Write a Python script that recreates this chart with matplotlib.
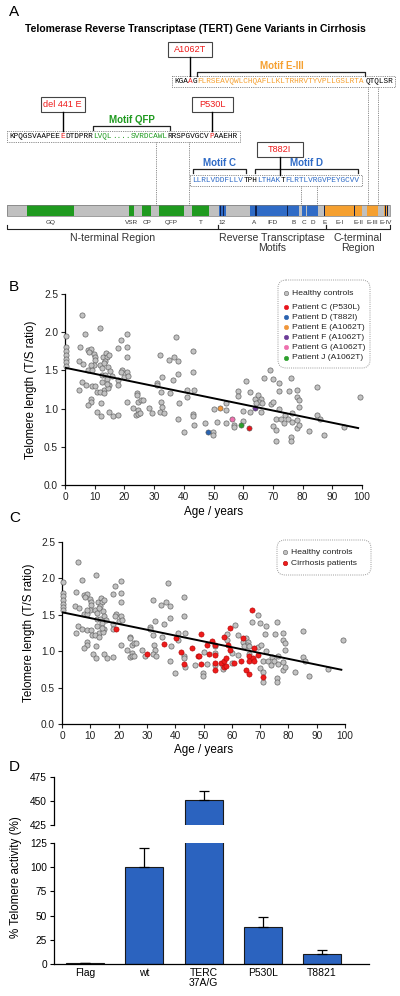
import matplotlib.pyplot as plt
import numpy as np
from matplotlib.patches import Rectangle, FancyBboxPatch

plt.rcParams['font.family'] = ['Liberation Sans', 'DejaVu Sans']

# ---------------- data ----------------
# Panel A: TERT domains (amino acid positions, protein length 1132)
TERT_LEN = 1132
domain_names = ["GQ", "VSR", "CP", "QFP", "T", "12", "A", "IFD", "B", "C", "D", "E",
                "E-I", "E-II", "E-III", "E-IV"]
domain_start = [59, 361, 399, 449, 547, 627, 718, 742, 830, 872, 887, 937, 940, 1026, 1064, 1114]
domain_end = [198, 375, 426, 523, 597, 647, 742, 830, 863, 884, 919, 941, 1026, 1049, 1097, 1126]
domain_group = ["N", "N", "N", "N", "N", "RT", "RT", "RT", "RT", "RT", "RT", "RT",
                "C", "C", "C", "C"]
dark_stripes = [632, 641, 736, 830, 939, 1026, 1118, 1125]
region_names = ["N-terminal Region", "Reverse Transcriptase\nMotifs", "C-terminal\nRegion"]
region_bounds = [(0, 624), (624, 943), (943, 1132)]

# Panel B / C: healthy controls (age, telomere length T/S)
healthy_age = [0.5, 0.5, 0.5, 0.5, 0.5, 0.5, 0.5,
               5.8, 6.9, 4.9, 4.7, 6.1, 4.8, 5.8, 7.0, 7.9, 9.0, 7.8, 8.8, 8.2, 9.9, 10.1, 10.2,
               9.9, 8.7, 9.0, 10.1, 8.8, 8.8, 7.6, 10.7, 11.9, 10.9, 12.0, 12.0, 11.8, 12.4, 12.5,
               12.4, 13.0, 11.8, 13.0, 12.7, 13.7, 14.0, 14.8, 13.5, 13.0, 14.6, 15.0, 13.5, 14.0,
               15.7, 14.8, 14.6, 14.0, 14.8, 16.0, 18.0, 18.0, 18.9, 19.1, 18.9, 18.0, 18.0, 20.9,
               20.8, 21.0, 20.0, 21.0, 21.1, 20.8, 23.0, 24.2, 24.2, 24.7, 24.7, 25.6, 26.2, 23.9,
               24.7, 25.3, 28.3, 29.2, 31.0, 31.1, 32.0, 32.8, 32.2, 32.4, 32.8, 32.0, 33.2, 35.2,
               36.2, 35.1, 36.8, 37.3, 38.2, 38.2, 38.4, 38.2, 40.1, 41.0, 41.1, 43.0, 43.0, 43.4,
               43.0, 43.0, 43.4,
               47.1, 49.7, 49.7, 50.0, 51.3, 54.1, 54.1, 54.1, 57.0, 57.0, 60.0, 58.3, 58.3, 61.1,
               62.2, 60.0, 62.2, 63.9, 65.0, 65.9, 65.3, 64.4, 66.2, 66.0, 67.0, 69.1, 70.0, 72.0,
               71.9, 69.2, 70.2, 72.2, 70.9, 70.0, 71.1, 70.9, 76.1, 76.1, 72.8, 74.2, 75.0, 73.9,
               76.4, 76.4, 78.1, 78.1, 78.9, 75.3, 76.1, 78.1, 78.1, 78.9, 78.9, 82.2, 85.0, 85.0,
               85.9, 87.2, 94.1, 99.2]
healthy_tl = [1.95, 1.80, 1.76, 1.70, 1.65, 1.61, 1.56,
              2.23, 1.98, 1.81, 1.62, 1.59, 1.25, 1.35, 1.31, 1.51, 1.51, 1.77, 1.78, 1.74, 1.72,
              1.68, 1.63, 1.57, 1.57, 1.29, 1.29, 1.13, 1.08, 1.05, 1.22, 2.05, 0.96, 0.90, 1.07,
              1.57, 1.53, 1.44, 1.35, 1.25, 1.22, 1.20, 1.68, 1.73, 1.68, 1.70, 1.62, 1.60, 1.55,
              1.49, 1.44, 1.39, 1.43, 1.31, 1.27, 1.32, 0.96, 0.90, 0.92, 1.79, 1.90, 1.51, 1.48,
              1.38, 1.31, 1.97, 1.80, 1.67, 1.42, 1.48, 1.43, 1.08, 1.01, 1.20, 1.18, 1.09, 0.98,
              1.11, 1.11, 0.92, 0.93, 0.94, 1.01, 0.94, 1.33, 1.31, 1.70, 1.42, 1.22, 1.09, 1.02,
              0.96, 0.94, 1.20, 1.38, 1.63, 1.67, 1.94, 1.62, 1.45, 1.07, 0.86, 0.70, 1.25, 1.15,
              1.75, 1.48, 1.25, 0.93, 0.90, 0.78,
              0.81, 0.70, 0.66, 0.99, 0.82, 1.07, 0.98, 0.81, 0.79, 0.76, 0.84, 1.23, 1.16, 1.36,
              1.22, 0.97, 0.95, 1.13, 1.18, 1.13, 1.09, 1.07, 1.07, 0.96, 1.40, 1.50, 1.39, 1.34,
              1.23, 1.06, 1.08, 1.00, 0.87, 0.77, 0.72, 0.58, 0.63, 0.58, 0.87, 0.92, 0.86, 0.81,
              0.94, 0.83, 0.85, 0.74, 0.78, 1.23, 1.40, 1.25, 1.15, 1.11, 1.02, 0.71, 1.28, 0.92,
              0.86, 0.66, 0.76, 1.15]

patient_names = ["Patient C (P530L)", "Patient D (T882I)", "Patient E (A1062T)",
                 "Patient F (A1062T)", "Patient G (A1062T)", "Patient J (A1062T)"]
patient_age = [62.0, 48.0, 52.2, 64.1, 56.1, 59.2]
patient_tl = [0.75, 0.70, 1.01, 1.01, 0.86, 0.78]
patient_colors = ["#e8141c", "#2a63b0", "#f0963a", "#6c3c98", "#ee70ae", "#2ca02c"]

cirrhosis_age = [19.1, 30.2, 36.0, 40.2, 41.9, 43.1, 46.1, 47.9, 48.5, 49.0, 49.0,
                 51.2, 52.1, 53.0, 54.1, 54.1, 54.1, 54.1, 56.1, 57.1, 57.1, 58.0, 57.9, 57.1,
                 59.2, 58.8, 59.2, 60.9, 63.2, 64.1, 65.1, 66.1, 66.2, 66.2, 67.6, 68.0, 68.0,
                 69.1, 67.1, 71.2]
cirrhosis_tl = [1.30, 0.96, 1.10, 1.18, 0.99, 0.82, 1.04, 0.93, 0.94, 1.23, 0.82,
                1.08, 0.96, 1.14, 1.08, 0.95, 0.84, 0.74, 0.84, 0.86, 0.78, 0.79, 0.91, 1.19,
                1.32, 1.09, 1.01, 0.84, 0.87, 1.18, 0.74, 0.69, 0.93, 0.87, 0.90, 0.86, 1.04,
                0.95, 1.56, 0.64]

fit_intercept = 1.535
fit_slope = -0.0080
fit_max_age = 98.7

# Panel D: telomerase activity
groups = ["Flag", "wt", "TERC\n37A/G", "P530L", "T8821"]
activity = [1, 100, 451, 38, 10]
activity_err = [0.5, 20, 9, 11, 4]

# ---------------- style ----------------
GRAY_FACE = "#c2c2c2"
GRAY_EDGE = "#666666"
RED = "#ee1c1c"
GREEN = "#1f9a1f"
BLUE = "#2f6bc6"
ORANGE = "#f5a030"
DARK = "#10204a"
BAR_BLUE = "#2b63bf"
MONO = "Liberation Mono"
SEQ_SIZE = 5.6
CW = 0.6 * SEQ_SIZE * 100 / 72  # advance of one residue, px
MS = 14
group_color = {"N": GREEN, "RT": BLUE, "C": ORANGE}

fig = plt.figure(figsize=(4, 9.96), dpi=100)

# overlay axes in pixel coordinates (panel A, legends, labels)
ov = fig.add_axes([0, 0, 1, 1], zorder=10)
ov.set_xlim(0, 400)
ov.set_ylim(996, 0)
ov.axis("off")

BAR_X0, BAR_X1, BAR_Y, BAR_H = 7, 390, 205, 11


def aa2px(a):
    return BAR_X0 + a * (BAR_X1 - BAR_X0) / TERT_LEN


def draw_seq(x0, y, parts):
    x = x0
    n = 0
    for txt, col in parts:
        ov.text(x, y, txt, color=col, family=MONO, fontsize=SEQ_SIZE,
                ha="left", va="center")
        x += len(txt) * CW
        n += len(txt)
    ov.add_patch(Rectangle((x0 - 2, y - 5.5), n * CW + 4, 11, fill=False,
                           ec="#666666", lw=0.6, ls=(0, (1, 1.2))))
    return x0 + n * CW


def dotted_v(x, y0, y1):
    ov.plot([x, x], [y0, y1], color="#666666", lw=0.6, ls=(0, (1, 1.2)))


def bracket(x0, x1, y, text, color):
    ov.plot([x0, x0, x1, x1], [y + 4, y, y, y + 4], color="#222222", lw=0.9)
    ov.text((x0 + x1) / 2, y - 6, text, color=color, fontsize=7, fontweight="bold",
            ha="center", va="center")


def mut_box(xc, top, w, label, y_end):
    ov.add_patch(Rectangle((xc - w / 2, top), w, 15, fc="white", ec="#444444", lw=0.8))
    ov.text(xc, top + 7.5, label, color=RED, fontsize=6.6, ha="center", va="center")
    ov.plot([xc, xc], [top + 15, y_end], color="k", lw=1.0)


# ---- Panel A ----
ov.text(9, 12, "A", fontsize=11, ha="left", va="center")
ov.text(195, 29, "Telomerase Reverse Transcriptase (TERT) Gene Variants in Cirrhosis",
        fontsize=7.5, fontweight="bold", ha="center", va="center")

# domain bar
ov.add_patch(Rectangle((BAR_X0, BAR_Y), BAR_X1 - BAR_X0, BAR_H, fc="#c0c0c0", ec="none"))
for name, s, e, g in zip(domain_names, domain_start, domain_end, domain_group):
    x0, x1 = aa2px(s), aa2px(e)
    ov.add_patch(Rectangle((x0, BAR_Y), x1 - x0, BAR_H, fc=group_color[g], ec="none"))
    ov.text((x0 + x1) / 2, 222, name, fontsize=4.6, ha="center", va="center", color="#333333")
for a in dark_stripes:
    ov.add_patch(Rectangle((aa2px(a) - 0.6, BAR_Y), 1.2, BAR_H, fc=DARK, ec="none"))
ov.add_patch(Rectangle((BAR_X0, BAR_Y), BAR_X1 - BAR_X0, BAR_H, fill=False, ec="#777777", lw=0.5))

for name, (s, e) in zip(region_names, region_bounds):
    x0, x1 = aa2px(s), aa2px(e)
    ov.plot([x0, x0, x1, x1], [225, 229, 229, 225], color="#222222", lw=0.8)
    ov.text((x0 + x1) / 2, 233, name, fontsize=7.6, ha="center", va="top",
            color="#333333", linespacing=1.05)

# sequence 1 (motif E-III)
seq1_x0, seq1_y = 174, 81.5
draw_seq(seq1_x0, seq1_y, [("KGA", "k"), ("A", RED), ("G", "k"),
                           ("FLRSEAVQWLCHQAFLLKLTRHRVTYVPLLGSLRTA", ORANGE),
                           ("QTQLSR", "k")])
bracket(seq1_x0 + 5 * CW, seq1_x0 + 41 * CW, 72, "Motif E-III", ORANGE)
mut_box(seq1_x0 + 3.5 * CW, 42, 44, "A1062T", 76)
dotted_v(368, 87, BAR_Y)
dotted_v(378, 87, BAR_Y)

# sequence 2 (motif QFP)
seq2_x0, seq2_y = 9, 136.5
draw_seq(seq2_x0, seq2_y, [("KPQGSVAAPEE", "k"), ("E", RED), ("DTDPRR", "k"),
                           ("LVQL", GREEN), ("....", GREEN), ("SVRDCAWL", GREEN),
                           ("RRSPGVGCV", "k"), ("P", RED), ("AAEHR", "k")])
bracket(seq2_x0 + 18 * CW, seq2_x0 + 34.5 * CW, 126, "Motif QFP", GREEN)
mut_box(seq2_x0 + 11.5 * CW, 97, 44, "del 441 E", 131)
mut_box(seq2_x0 + 43.5 * CW, 97, 41, "P530L", 131)
dotted_v(156, 142, BAR_Y)
dotted_v(189, 142, BAR_Y)

# sequence 3 (motifs C and D)
seq3_x0, seq3_y = 192, 180.5
draw_seq(seq3_x0, seq3_y, [("LLRLVDDFLLV", BLUE), ("TPH", "k"), ("LTHAK", BLUE), ("T", "k"),
                           ("FLRTLVRGVPEYGCVV", BLUE)])
bracket(seq3_x0 + 0.2 * CW, seq3_x0 + 11.5 * CW, 169, "Motif C", BLUE)
bracket(seq3_x0 + 13.5 * CW, seq3_x0 + 35.5 * CW, 169, "Motif D", BLUE)
mut_box(seq3_x0 + 18.8 * CW, 142, 46, "T882I", 174.5)
dotted_v(301, 186, BAR_Y)
dotted_v(317, 186, BAR_Y)


# ---- scatter panels ----
def style_scatter(ax, ylab_x, xlab_y):
    ax.set_xlim(0, 100)
    ax.set_ylim(0, 2.5)
    ax.set_xticks(np.arange(0, 101, 10))
    ax.set_yticks(np.arange(0, 2.51, 0.5))
    ax.set_yticklabels([f"{v:.1f}" for v in np.arange(0, 2.51, 0.5)])
    for sp in ["top", "right"]:
        ax.spines[sp].set_visible(False)
    for sp in ["left", "bottom"]:
        ax.spines[sp].set_linewidth(0.9)
    ax.tick_params(direction="out", length=3, width=0.8, labelsize=7.3, pad=2, colors="#222222")
    ax.set_xlabel("Age / years", fontsize=8.4)
    ax.set_ylabel("Telomere length (T/S ratio)", fontsize=8.4)
    ax.yaxis.set_label_coords(ylab_x, 0.5)
    ax.xaxis.set_label_coords(0.5, xlab_y)
    ax.patch.set_alpha(0)


def fit_line(ax):
    xs = np.array([0, fit_max_age])
    ax.plot(xs, fit_intercept + fit_slope * xs, color="k", lw=1.4, zorder=5)


axb = fig.add_axes([65 / 400, 1 - 485 / 996, 297 / 400, 191 / 996])
axb.scatter(healthy_age, healthy_tl, s=MS, c=GRAY_FACE, edgecolors=GRAY_EDGE,
            linewidths=0.5, clip_on=False, zorder=3)
for a, t, c in zip(patient_age, patient_tl, patient_colors):
    axb.scatter([a], [t], s=MS, c=c, edgecolors="#555555", linewidths=0.4, zorder=4)
fit_line(axb)
style_scatter(axb, -0.093, -0.11)
ov.text(9, 287, "B", fontsize=11, ha="left", va="center")

axc = fig.add_axes([62 / 400, 1 - 724 / 996, 283 / 400, 182 / 996])
axc.scatter(healthy_age, healthy_tl, s=MS, c=GRAY_FACE, edgecolors=GRAY_EDGE,
            linewidths=0.5, clip_on=False, zorder=3)
axc.scatter(cirrhosis_age, cirrhosis_tl, s=MS, c=RED, edgecolors="#b00000",
            linewidths=0.4, zorder=4)
fit_line(axc)
style_scatter(axc, -0.095, -0.11)
ov.text(9, 518, "C", fontsize=11, ha="left", va="center")


# legends (drawn manually, rounded dotted boxes)
def legend_box(x, y, w, h, entries):
    ov.add_patch(FancyBboxPatch((x, y), w, h, boxstyle="round,pad=0,rounding_size=8",
                                fc="white", ec="#9a9a9a", lw=0.7, ls=(0, (1, 1.2))))
    for (label, face, edge, yy) in entries:
        ov.scatter([x + 8], [yy], s=10, c=face, edgecolors=edge, linewidths=0.4)
        ov.text(x + 14, yy, label, fontsize=6.1, ha="left", va="center", color="#222222")


b_entries = [("Healthy controls", GRAY_FACE, GRAY_EDGE, 293)]
for i, (n, c) in enumerate(zip(patient_names, patient_colors)):
    b_entries.append((n, c, c, 307 + i * 10.1))
legend_box(278, 280, 92, 88, b_entries)
legend_box(277, 540, 94, 35, [("Healthy controls", GRAY_FACE, GRAY_EDGE, 552),
                              ("Cirrhosis patients", RED, "#b00000", 563)])

# ---- Panel D: broken-axis bar chart ----
xpos = np.arange(len(groups))
axd_lo = fig.add_axes([54 / 400, 32 / 996, 315 / 400, 121 / 996])
axd_hi = fig.add_axes([54 / 400, 171 / 996, 315 / 400, 48 / 996])
for ax in (axd_lo, axd_hi):
    ax.bar(xpos, activity, width=0.64, color=BAR_BLUE, edgecolor="#1a1a1a", linewidth=0.8)
    ax.errorbar(xpos, activity, yerr=[np.zeros(len(activity)), activity_err], fmt="none",
                ecolor="k", elinewidth=0.9, capsize=3.8, capthick=0.9)
    ax.set_xlim(-0.524, 4.79)
    for sp in ["top", "right"]:
        ax.spines[sp].set_visible(False)
    ax.spines["left"].set_linewidth(0.9)
    ax.spines["bottom"].set_linewidth(0.9)
    ax.tick_params(axis="y", direction="out", length=3, width=0.8, labelsize=7.3, pad=2)
axd_lo.set_ylim(0, 125)
axd_lo.set_yticks(np.arange(0, 126, 25))
axd_lo.set_xticks(xpos)
axd_lo.set_xticklabels(groups, fontsize=7.5, linespacing=1.0)
axd_lo.tick_params(axis="x", length=0, pad=3)
axd_hi.set_ylim(425, 475)
axd_hi.set_yticks([425, 450, 475])
axd_hi.spines["bottom"].set_visible(False)
axd_hi.set_xticks([])
ov.text(16, 877, "% Telomere activity (%)", fontsize=8.4, rotation=90, ha="center", va="center")
ov.text(9, 767, "D", fontsize=11, ha="left", va="center")

fig.savefig("out.png", dpi=100)
